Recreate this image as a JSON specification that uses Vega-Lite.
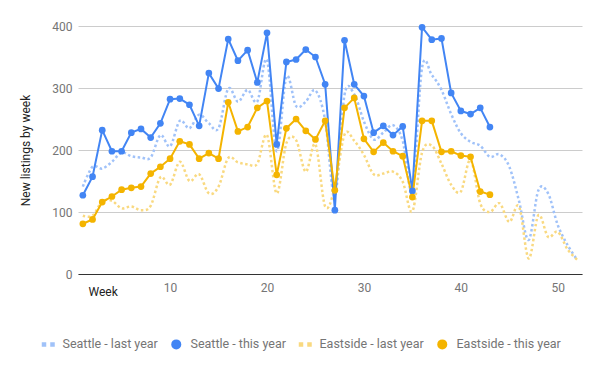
{
  "$schema": "https://vega.github.io/schema/vega-lite/v6.json",
  "width": 504,
  "height": 248,
  "autosize": {"type": "none"},
  "padding": {"left": 78, "top": 26, "right": 18, "bottom": 97},
  "background": "white",
  "config": {
    "font": "Roboto",
    "view": {"stroke": null},
    "axis": {"labelFont": "Roboto", "titleFont": "Roboto"},
    "legend": {"labelFont": "Roboto"}
  },
  "data": {"values": [
    {"week":1,"series":"Seattle - last year","value":141},{"week":2,"series":"Seattle - last year","value":173},{"week":3,"series":"Seattle - last year","value":170},{"week":4,"series":"Seattle - last year","value":181},{"week":5,"series":"Seattle - last year","value":196},{"week":6,"series":"Seattle - last year","value":190},{"week":7,"series":"Seattle - last year","value":188},{"week":8,"series":"Seattle - last year","value":188},{"week":9,"series":"Seattle - last year","value":224},{"week":10,"series":"Seattle - last year","value":206},{"week":11,"series":"Seattle - last year","value":247},{"week":12,"series":"Seattle - last year","value":235},{"week":13,"series":"Seattle - last year","value":257},{"week":14,"series":"Seattle - last year","value":243},{"week":15,"series":"Seattle - last year","value":235},{"week":16,"series":"Seattle - last year","value":299},{"week":17,"series":"Seattle - last year","value":278},{"week":18,"series":"Seattle - last year","value":297},{"week":19,"series":"Seattle - last year","value":278},{"week":20,"series":"Seattle - last year","value":345},{"week":21,"series":"Seattle - last year","value":198},{"week":22,"series":"Seattle - last year","value":318},{"week":23,"series":"Seattle - last year","value":271},{"week":24,"series":"Seattle - last year","value":278},{"week":25,"series":"Seattle - last year","value":296},{"week":26,"series":"Seattle - last year","value":248},{"week":27,"series":"Seattle - last year","value":125},{"week":28,"series":"Seattle - last year","value":289},{"week":29,"series":"Seattle - last year","value":290},{"week":30,"series":"Seattle - last year","value":246},{"week":31,"series":"Seattle - last year","value":217},{"week":32,"series":"Seattle - last year","value":228},{"week":33,"series":"Seattle - last year","value":240},{"week":34,"series":"Seattle - last year","value":215},{"week":35,"series":"Seattle - last year","value":137},{"week":36,"series":"Seattle - last year","value":333},{"week":37,"series":"Seattle - last year","value":321},{"week":38,"series":"Seattle - last year","value":297},{"week":39,"series":"Seattle - last year","value":258},{"week":40,"series":"Seattle - last year","value":227},{"week":41,"series":"Seattle - last year","value":213},{"week":42,"series":"Seattle - last year","value":207},{"week":43,"series":"Seattle - last year","value":189},{"week":44,"series":"Seattle - last year","value":193},{"week":45,"series":"Seattle - last year","value":173},{"week":46,"series":"Seattle - last year","value":118},{"week":47,"series":"Seattle - last year","value":55},{"week":48,"series":"Seattle - last year","value":135},{"week":49,"series":"Seattle - last year","value":130},{"week":50,"series":"Seattle - last year","value":79},{"week":51,"series":"Seattle - last year","value":47},{"week":52,"series":"Seattle - last year","value":23},
    {"week":1,"series":"Seattle - this year","value":127},{"week":2,"series":"Seattle - this year","value":157},{"week":3,"series":"Seattle - this year","value":232},{"week":4,"series":"Seattle - this year","value":198},{"week":5,"series":"Seattle - this year","value":198},{"week":6,"series":"Seattle - this year","value":228},{"week":7,"series":"Seattle - this year","value":234},{"week":8,"series":"Seattle - this year","value":220},{"week":9,"series":"Seattle - this year","value":243},{"week":10,"series":"Seattle - this year","value":282},{"week":11,"series":"Seattle - this year","value":283},{"week":12,"series":"Seattle - this year","value":273},{"week":13,"series":"Seattle - this year","value":239},{"week":14,"series":"Seattle - this year","value":324},{"week":15,"series":"Seattle - this year","value":299},{"week":16,"series":"Seattle - this year","value":379},{"week":17,"series":"Seattle - this year","value":344},{"week":18,"series":"Seattle - this year","value":361},{"week":19,"series":"Seattle - this year","value":309},{"week":20,"series":"Seattle - this year","value":389},{"week":21,"series":"Seattle - this year","value":209},{"week":22,"series":"Seattle - this year","value":342},{"week":23,"series":"Seattle - this year","value":346},{"week":24,"series":"Seattle - this year","value":362},{"week":25,"series":"Seattle - this year","value":350},{"week":26,"series":"Seattle - this year","value":306},{"week":27,"series":"Seattle - this year","value":103},{"week":28,"series":"Seattle - this year","value":377},{"week":29,"series":"Seattle - this year","value":306},{"week":30,"series":"Seattle - this year","value":287},{"week":31,"series":"Seattle - this year","value":228},{"week":32,"series":"Seattle - this year","value":239},{"week":33,"series":"Seattle - this year","value":224},{"week":34,"series":"Seattle - this year","value":238},{"week":35,"series":"Seattle - this year","value":134},{"week":36,"series":"Seattle - this year","value":398},{"week":37,"series":"Seattle - this year","value":378},{"week":38,"series":"Seattle - this year","value":380},{"week":39,"series":"Seattle - this year","value":292},{"week":40,"series":"Seattle - this year","value":263},{"week":41,"series":"Seattle - this year","value":258},{"week":42,"series":"Seattle - this year","value":268},{"week":43,"series":"Seattle - this year","value":237},
    {"week":1,"series":"Eastside - last year","value":94},{"week":2,"series":"Eastside - last year","value":94},{"week":3,"series":"Eastside - last year","value":117},{"week":4,"series":"Eastside - last year","value":118},{"week":5,"series":"Eastside - last year","value":106},{"week":6,"series":"Eastside - last year","value":109},{"week":7,"series":"Eastside - last year","value":103},{"week":8,"series":"Eastside - last year","value":110},{"week":9,"series":"Eastside - last year","value":156},{"week":10,"series":"Eastside - last year","value":144},{"week":11,"series":"Eastside - last year","value":181},{"week":12,"series":"Eastside - last year","value":150},{"week":13,"series":"Eastside - last year","value":161},{"week":14,"series":"Eastside - last year","value":130},{"week":15,"series":"Eastside - last year","value":141},{"week":16,"series":"Eastside - last year","value":187},{"week":17,"series":"Eastside - last year","value":180},{"week":18,"series":"Eastside - last year","value":177},{"week":19,"series":"Eastside - last year","value":178},{"week":20,"series":"Eastside - last year","value":224},{"week":21,"series":"Eastside - last year","value":130},{"week":22,"series":"Eastside - last year","value":211},{"week":23,"series":"Eastside - last year","value":216},{"week":24,"series":"Eastside - last year","value":165},{"week":25,"series":"Eastside - last year","value":209},{"week":26,"series":"Eastside - last year","value":109},{"week":27,"series":"Eastside - last year","value":140},{"week":28,"series":"Eastside - last year","value":225},{"week":29,"series":"Eastside - last year","value":215},{"week":30,"series":"Eastside - last year","value":192},{"week":31,"series":"Eastside - last year","value":161},{"week":32,"series":"Eastside - last year","value":162},{"week":33,"series":"Eastside - last year","value":165},{"week":34,"series":"Eastside - last year","value":149},{"week":35,"series":"Eastside - last year","value":101},{"week":36,"series":"Eastside - last year","value":196},{"week":37,"series":"Eastside - last year","value":207},{"week":38,"series":"Eastside - last year","value":178},{"week":39,"series":"Eastside - last year","value":144},{"week":40,"series":"Eastside - last year","value":133},{"week":41,"series":"Eastside - last year","value":184},{"week":42,"series":"Eastside - last year","value":114},{"week":43,"series":"Eastside - last year","value":100},{"week":44,"series":"Eastside - last year","value":114},{"week":45,"series":"Eastside - last year","value":84},{"week":46,"series":"Eastside - last year","value":109},{"week":47,"series":"Eastside - last year","value":25},{"week":48,"series":"Eastside - last year","value":95},{"week":49,"series":"Eastside - last year","value":60},{"week":50,"series":"Eastside - last year","value":68},{"week":51,"series":"Eastside - last year","value":40},{"week":52,"series":"Eastside - last year","value":23},
    {"week":1,"series":"Eastside - this year","value":81},{"week":2,"series":"Eastside - this year","value":88},{"week":3,"series":"Eastside - this year","value":116},{"week":4,"series":"Eastside - this year","value":125},{"week":5,"series":"Eastside - this year","value":136},{"week":6,"series":"Eastside - this year","value":139},{"week":7,"series":"Eastside - this year","value":141},{"week":8,"series":"Eastside - this year","value":162},{"week":9,"series":"Eastside - this year","value":173},{"week":10,"series":"Eastside - this year","value":186},{"week":11,"series":"Eastside - this year","value":214},{"week":12,"series":"Eastside - this year","value":209},{"week":13,"series":"Eastside - this year","value":186},{"week":14,"series":"Eastside - this year","value":195},{"week":15,"series":"Eastside - this year","value":186},{"week":16,"series":"Eastside - this year","value":277},{"week":17,"series":"Eastside - this year","value":230},{"week":18,"series":"Eastside - this year","value":237},{"week":19,"series":"Eastside - this year","value":268},{"week":20,"series":"Eastside - this year","value":279},{"week":21,"series":"Eastside - this year","value":160},{"week":22,"series":"Eastside - this year","value":235},{"week":23,"series":"Eastside - this year","value":250},{"week":24,"series":"Eastside - this year","value":231},{"week":25,"series":"Eastside - this year","value":217},{"week":26,"series":"Eastside - this year","value":247},{"week":27,"series":"Eastside - this year","value":135},{"week":28,"series":"Eastside - this year","value":268},{"week":29,"series":"Eastside - this year","value":284},{"week":30,"series":"Eastside - this year","value":218},{"week":31,"series":"Eastside - this year","value":197},{"week":32,"series":"Eastside - this year","value":212},{"week":33,"series":"Eastside - this year","value":198},{"week":34,"series":"Eastside - this year","value":190},{"week":35,"series":"Eastside - this year","value":124},{"week":36,"series":"Eastside - this year","value":247},{"week":37,"series":"Eastside - this year","value":247},{"week":38,"series":"Eastside - this year","value":197},{"week":39,"series":"Eastside - this year","value":198},{"week":40,"series":"Eastside - this year","value":191},{"week":41,"series":"Eastside - this year","value":189},{"week":42,"series":"Eastside - this year","value":133},{"week":43,"series":"Eastside - this year","value":128}
  ]},
  "encoding": {
    "x": {
      "field": "week", "type": "quantitative",
      "scale": {"domain": [0.5, 52.5], "nice": false, "zero": false},
      "axis": {
        "title": "Week", "values": [10, 20, 30, 40, 50], "grid": false, "ticks": false,
        "domainColor": "#333333", "domainWidth": 1,
        "labelColor": "#757575", "labelFontSize": 12, "labelPadding": 8,
        "titleColor": "#222222", "titleFontSize": 12, "titleFontWeight": "normal",
        "titleAnchor": "start", "titleAlign": "left", "titleBaseline": "top",
        "titleX": 10, "titleY": 12
      }
    },
    "y": {
      "field": "value", "type": "quantitative",
      "scale": {"domain": [0, 400], "nice": false},
      "axis": {
        "title": "New listings by week", "values": [0, 100, 200, 300, 400],
        "domain": false, "ticks": false, "gridColor": "#cccccc",
        "labelColor": "#757575", "labelFontSize": 12, "labelPadding": 6,
        "titleColor": "#222222", "titleFontSize": 12, "titleFontWeight": "normal",
        "titlePadding": 19
      }
    },
    "color": {
      "field": "series", "type": "nominal",
      "scale": {
        "domain": ["Seattle - last year", "Seattle - this year", "Eastside - last year", "Eastside - this year"],
        "range": ["#a0c2f9", "#4285f4", "#f9d980", "#f4b400"]
      },
      "legend": {
        "title": null, "orient": "none", "direction": "horizontal",
        "legendX": -36, "legendY": 312,
        "labelColor": "#757575", "labelFontSize": 12.5, "labelOffset": 8,
        "columnPadding": 12, "symbolSize": 100, "symbolStrokeWidth": 0
      }
    }
  },
  "layer": [
    {
      "transform": [{"filter": "indexof(datum.series, 'last year') >= 0"}],
      "mark": {"type": "line", "interpolate": "cardinal", "strokeWidth": 2.5, "strokeDash": [2.5, 2.5]}
    },
    {
      "transform": [{"filter": "indexof(datum.series, 'this year') >= 0"}],
      "mark": {"type": "line", "strokeWidth": 2}
    },
    {
      "transform": [{"filter": "indexof(datum.series, 'this year') >= 0"}],
      "mark": {"type": "point", "filled": true, "opacity": 1, "size": 45},
      "encoding": {
        "shape": {
          "field": "series", "type": "nominal",
          "scale": {
            "domain": ["Seattle - last year", "Seattle - this year", "Eastside - last year", "Eastside - this year"],
            "range": ["M-1.3,-0.45H-0.4V0.45H-1.3Z M0.4,-0.45H1.3V0.45H0.4Z", "circle", "M-1.3,-0.45H-0.4V0.45H-1.3Z M0.4,-0.45H1.3V0.45H0.4Z", "circle"]
          },
          "legend": {
            "title": null, "orient": "none", "direction": "horizontal",
            "legendX": -36, "legendY": 312,
            "labelColor": "#757575", "labelFontSize": 12.5, "labelOffset": 8,
            "columnPadding": 12, "symbolSize": 100, "symbolStrokeWidth": 0
          }
        }
      }
    }
  ]
}
